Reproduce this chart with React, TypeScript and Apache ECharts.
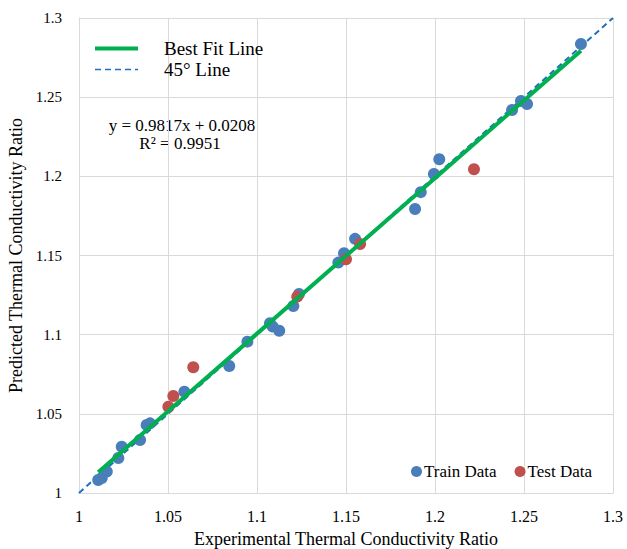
import React, { useEffect, useRef } from "react";
import * as echarts from "echarts";

const trainX = [1.0108, 1.0128, 1.0156, 1.0221, 1.024, 1.0343, 1.038, 1.0399, 1.0592, 1.0844, 1.0946, 1.1073, 1.1088, 1.1125, 1.1204, 1.1236, 1.1457, 1.1489, 1.1551, 1.1888, 1.192, 1.1994, 1.2024, 1.2433, 1.2483, 1.2517, 1.282];
const trainY = [1.0082, 1.0095, 1.0135, 1.0221, 1.0292, 1.0335, 1.043, 1.044, 1.064, 1.0802, 1.0956, 1.1072, 1.1051, 1.1025, 1.1181, 1.1257, 1.1455, 1.1514, 1.1605, 1.1794, 1.19, 1.2015, 1.2108, 1.2419, 1.2476, 1.2457, 1.2836];
const testX = [1.0502, 1.053, 1.0642, 1.1226, 1.15, 1.1579, 1.2219];
const testY = [1.0545, 1.0613, 1.0794, 1.124, 1.1476, 1.1573, 1.2045];
const slope = 0.9817;
const intercept = 0.0208;
const fitRange = [1.0108, 1.282];
const diagRange = [1, 1.3];
const tickLabels = ["1", "1.05", "1.1", "1.15", "1.2", "1.25", "1.3"];
const equationText = "y = 0.9817x + 0.0208";
const r2Text = "R² = 0.9951";

const FONT = "Liberation Serif";

export default function App() {
  const ref = useRef<HTMLDivElement>(null);
  useEffect(() => {
    if (!ref.current) return;
    const chart = echarts.init(ref.current, undefined, { renderer: "svg" });
    const train = trainX.map((x, i) => [x, trainY[i]]);
    const test = testX.map((x, i) => [x, testY[i]]);
    const fit = fitRange.map((x) => [x, slope * x + intercept]);
    const diag = diagRange.map((x) => [x, x]);
    const fmt = (v: number) => tickLabels[Math.round((v - 1) / 0.05)] ?? String(v);
    chart.setOption({
      animation: false,
      textStyle: { fontFamily: FONT, color: "#000" },
      grid: { left: 79, right: 14, top: 18, bottom: 56, outerBoundsMode: "none", containLabel: false },
      xAxis: {
        type: "value",
        min: 1,
        max: 1.3,
        interval: 0.05,
        name: "Experimental Thermal Conductivity Ratio",
        nameLocation: "middle",
        nameGap: 37,
        nameTextStyle: { fontFamily: FONT, fontSize: 18, color: "#000" },
        axisLine: { show: true, lineStyle: { color: "#d9d9d9" } },
        axisTick: { show: false },
        axisLabel: { fontFamily: FONT, fontSize: 16, color: "#000", margin: 15, formatter: fmt },
        splitLine: { show: true, lineStyle: { color: "#d9d9d9", width: 1 } },
      },
      yAxis: {
        type: "value",
        min: 1,
        max: 1.3,
        interval: 0.05,
        name: "Predicted Thermal Conductivity Ratio",
        nameLocation: "middle",
        nameGap: 53,
        nameTextStyle: { fontFamily: FONT, fontSize: 18, color: "#000" },
        axisLine: { show: true, lineStyle: { color: "#d9d9d9" } },
        axisTick: { show: false },
        axisLabel: { fontFamily: FONT, fontSize: 15, color: "#000", margin: 17, formatter: fmt },
        splitLine: { show: true, lineStyle: { color: "#d9d9d9", width: 1 } },
      },
      legend: [
        {
          data: [
            { name: "Best Fit Line", lineStyle: { width: 4 } },
            { name: "45° Line", lineStyle: { width: 1.5 } },
          ],
          orient: "vertical",
          left: 88,
          top: 34,
          itemWidth: 43,
          itemHeight: 12,
          itemGap: 2,
          itemStyle: { opacity: 0 },
          textStyle: { fontFamily: FONT, fontSize: 19, color: "#000", padding: [0, 0, 0, 21] },
        },
        {
          data: [
            { name: "Train Data", icon: "circle" },
            { name: "Test Data", icon: "circle" },
          ],
          orient: "horizontal",
          left: 406,
          top: 458,
          itemWidth: 11,
          itemHeight: 11,
          itemGap: 18,
          textStyle: { fontFamily: FONT, fontSize: 17, color: "#000", padding: [0, 0, 0, -3] },
        },
      ],
      graphic: [
        {
          type: "text",
          x: 182,
          y: 117,
          style: {
            text: equationText,
            fontFamily: FONT,
            fontSize: 17,
            fill: "#000",
            align: "center",
            verticalAlign: "top",
          },
        },
        {
          type: "text",
          x: 180,
          y: 135,
          style: {
            text: r2Text,
            fontFamily: FONT,
            fontSize: 17,
            fill: "#000",
            align: "center",
            verticalAlign: "top",
          },
        },
      ],
      series: [
        {
          name: "45° Line",
          type: "line",
          data: diag,
          symbol: "none",
          lineStyle: { color: "#1f6fc0", width: 2, type: [6, 4] },
          z: 2,
        },
        {
          name: "Train Data",
          type: "scatter",
          data: train,
          symbolSize: 12,
          itemStyle: { color: "#4a7ebb", opacity: 1 },
          z: 3,
        },
        {
          name: "Test Data",
          type: "scatter",
          data: test,
          symbolSize: 12,
          itemStyle: { color: "#c0504d", opacity: 1 },
          z: 4,
        },
        {
          name: "Best Fit Line",
          type: "line",
          data: fit,
          symbol: "none",
          lineStyle: { color: "#00b050", width: 4 },
          z: 5,
        },
      ],
    });
    return () => chart.dispose();
  }, []);
  return <div ref={ref} style={{ width: 627, height: 549, position: "absolute", left: 0, top: 0 }} />;
}
